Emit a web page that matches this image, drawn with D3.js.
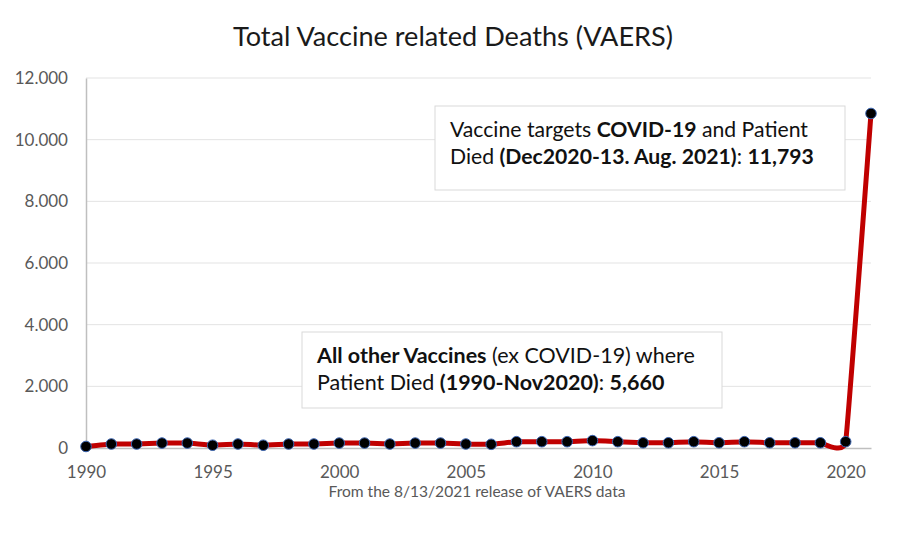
<!DOCTYPE html>
<html>
<head>
<meta charset="utf-8">
<script src="https://cdn.jsdelivr.net/npm/d3@7/dist/d3.min.js"></script>
<style>
  html, body { margin: 0; padding: 0; background: #fff; }
  svg { display: block; font-family: Lato, "Open Sans", sans-serif; }
</style>
</head>
<body>
<svg id="chart" width="913" height="538"></svg>
<script>
// ---- data ----
const years = [1990,1991,1992,1993,1994,1995,1996,1997,1998,1999,2000,2001,2002,2003,2004,2005,2006,2007,2008,2009,2010,2011,2012,2013,2014,2015,2016,2017,2018,2019,2020,2021];
const deaths = [50,130,130,160,160,90,130,90,130,130,160,160,130,160,160,130,120,205,205,205,240,205,170,170,205,170,205,170,170,170,205,10850];
const yTicks = [0,2000,4000,6000,8000,10000,12000];
const xTicks = [1990,1995,2000,2005,2010,2015,2020];
const titleText = "Total Vaccine related Deaths (VAERS)";
const footText = "From the 8/13/2021 release of VAERS data";
const note1 = [
  [["Vaccine targets ", false], ["COVID-19", true], [" and Patient", false]],
  [["Died ", false], ["(Dec2020-13. Aug. 2021)", true], [": ", false], ["11,793", true]]
];
const note2 = [
  [["All other Vaccines", true], [" (ex COVID-19) where", false]],
  [["Patient Died ", false], ["(1990-Nov2020)", true], [": ", false], ["5,660", true]]
];

// ---- layout ----
const svg = d3.select("#chart");
const x = d3.scaleLinear().domain([1990, 2021]).range([86, 871]);
const y = d3.scaleLinear().domain([0, 12000]).range([448, 78]);

function fit(sel, target) {
  const w = sel.node().getComputedTextLength();
  const fs = parseFloat(sel.attr("font-size"));
  sel.attr("font-size", fs * target / w);
}

// title
const title = svg.append("text").attr("x", 453).attr("y", 46)
  .attr("text-anchor", "middle").attr("font-size", 24).attr("fill", "#1a1a1a")
  .text(titleText);
fit(title, 440);

// gridlines
svg.append("g").selectAll("line").data(yTicks.filter(d => d > 0)).join("line")
  .attr("x1", x(1990)).attr("x2", x(2021))
  .attr("y1", d => y(d)).attr("y2", d => y(d))
  .attr("stroke", "#e3e3e3").attr("stroke-width", 1);

// y axis
const yAxis = svg.append("g").attr("transform", `translate(${x(1990)},0)`)
  .call(d3.axisLeft(y).tickValues(yTicks).tickSize(0).tickPadding(18)
    .tickFormat(d => d3.format(",")(d).replace(/,/g, ".")));
yAxis.select(".domain").attr("stroke", "#bfbfbf").attr("stroke-width", 1.5);
yAxis.selectAll("text").attr("font-size", 17).attr("fill", "#595959")
  .attr("font-family", "Lato, sans-serif");

// x axis
const xAxis = svg.append("g").attr("transform", `translate(0,${y(0)})`)
  .call(d3.axisBottom(x).tickValues(xTicks).tickSize(0).tickPadding(18)
    .tickFormat(d3.format("d")));
xAxis.select(".domain").attr("stroke", "#bfbfbf").attr("stroke-width", 1.5);
xAxis.selectAll("text").attr("font-size", 17).attr("fill", "#595959")
  .attr("font-family", "Lato, sans-serif");

// footnote
const foot = svg.append("text").attr("x", 477).attr("y", 497)
  .attr("text-anchor", "middle").attr("font-size", 14).attr("fill", "#595959")
  .text(footText);
fit(foot, 297);

// annotation boxes
function note(lines, bx, by, bw, bh, tx, ty, lh, lineW) {
  svg.append("rect").attr("x", bx).attr("y", by).attr("width", bw).attr("height", bh)
    .attr("fill", "#fff").attr("stroke", "#d9d9d9").attr("stroke-width", 1);
  let fsRef = null;
  lines.forEach((parts, i) => {
    const t = svg.append("text").attr("x", tx).attr("y", ty + i * lh)
      .attr("font-size", 20).attr("fill", "#111");
    parts.forEach(([s, b]) => t.append("tspan").attr("font-weight", b ? 700 : 400).text(s));
    if (i === 0) { fit(t, lineW); fsRef = t.attr("font-size"); }
    else t.attr("font-size", fsRef);
  });
}

// line
const pts = years.map((yr, i) => [yr, deaths[i]]);
const line = d3.line().x(d => x(d[0])).y(d => y(d[1])).curve(d3.curveCardinal.tension(0.75));
svg.append("path").attr("d", line(pts)).attr("fill", "none")
  .attr("stroke", "#c00000").attr("stroke-width", 5).attr("stroke-linejoin", "round");

note(note1, 435, 106, 410, 84, 450, 136.5, 27.5, 358);
note(note2, 302, 332, 420, 76, 317, 362.5, 27.5, 378);

svg.append("g").selectAll("circle").data(pts).join("circle")
  .attr("cx", d => x(d[0])).attr("cy", d => y(d[1])).attr("r", 5.3)
  .attr("fill", "#000").attr("stroke", "#3a64b0").attr("stroke-width", 1);
</script>
</body>
</html>
